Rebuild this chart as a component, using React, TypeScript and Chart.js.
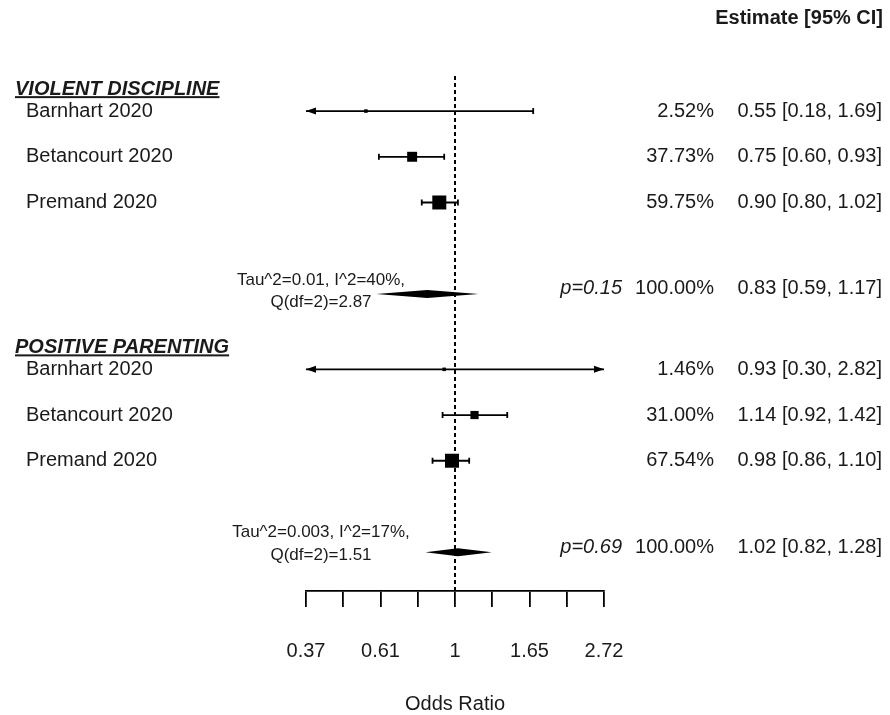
import React, { useEffect, useRef } from 'react';
import { Chart, registerables } from 'chart.js';

Chart.register(...registerables);

// ---------- data ----------
const STUDIES = ['Barnhart 2020', 'Betancourt 2020', 'Premand 2020'];

const GROUP_TITLES = ['VIOLENT DISCIPLINE', 'POSITIVE PARENTING'];

const VD_EST = [0.55, 0.75, 0.9];
const VD_LO = [0.18, 0.6, 0.8];
const VD_HI = [1.69, 0.93, 1.02];
const VD_WEIGHT = [2.52, 37.73, 59.75];
const VD_ROWS = [10.65, 9.65, 8.65];
const VD_SUM_ROW = 6.65;
const VD_SUM = [0.83, 0.59, 1.17]; // estimate, lower, upper
const VD_P = 'p=0.15';
const VD_HET = ['Tau^2=0.01, I^2=40%,', 'Q(df=2)=2.87'];

const PP_EST = [0.93, 1.14, 0.98];
const PP_LO = [0.3, 0.92, 0.86];
const PP_HI = [2.82, 1.42, 1.1];
const PP_WEIGHT = [1.46, 31.0, 67.54];
const PP_ROWS = [5, 4, 3];
const PP_SUM_ROW = 1;
const PP_SUM = [1.02, 0.82, 1.28];
const PP_P = 'p=0.69';
const PP_HET = ['Tau^2=0.003, I^2=17%,', 'Q(df=2)=1.51'];

const SUM_WEIGHT = '100.00%';

// x axis (natural-log odds ratio)
const X_MIN = -1;
const X_MAX = 1;
const TICK_STEP = 0.25;
const TICK_LN = [-1, -0.5, 0, 0.5, 1];
const TICK_LABELS = ['0.37', '0.61', '1', '1.65', '2.72'];
const X_TITLE = 'Odds Ratio';
const HEADER_TEXT = 'Estimate [95% CI]';

// y axis (row units)
const Y_MIN = 0.15;
const Y_MAX = 13.08;
const HEADER_ROW = 12.68;
const REF_LINE_TOP = 11.46;

// ---------- style ----------
const FONT = '"Liberation Sans", Arial, Helvetica, sans-serif';
const TEXT_COLOR = '#1a1a1a';
const MARK_COLOR = '#000';
const HET_OFFSETS = [
  [-14, 8],
  [-20, 3],
];

const fmt = (v: number) => v.toFixed(2);
const ciText = (e: number, l: number, h: number) => `${fmt(e)} [${fmt(l)}, ${fmt(h)}]`;

export default function App() {
  const ref = useRef<HTMLCanvasElement>(null);

  useEffect(() => {
    const canvas = ref.current;
    if (!canvas) return;

    const groups = [
      {
        title: GROUP_TITLES[0],
        rows: VD_ROWS,
        est: VD_EST,
        lo: VD_LO,
        hi: VD_HI,
        w: VD_WEIGHT,
        sumRow: VD_SUM_ROW,
        sum: VD_SUM,
        p: VD_P,
        het: VD_HET,
        hetOff: HET_OFFSETS[0],
      },
      {
        title: GROUP_TITLES[1],
        rows: PP_ROWS,
        est: PP_EST,
        lo: PP_LO,
        hi: PP_HI,
        w: PP_WEIGHT,
        sumRow: PP_SUM_ROW,
        sum: PP_SUM,
        p: PP_P,
        het: PP_HET,
        hetOff: HET_OFFSETS[1],
      },
    ];

    const points: { x: number; y: number }[] = [];
    const radii: number[] = [];
    groups.forEach((g) => {
      const wmin = Math.min(...g.w);
      const wmax = Math.max(...g.w);
      g.est.forEach((e, i) => {
        points.push({ x: Math.log(e), y: g.rows[i] });
        const ps = 0.5 + (1.5 * (g.w[i] - wmin)) / (wmax - wmin);
        const side = ps * 7;
        radii.push(side / Math.SQRT2);
      });
    });

    const forestPlugin = {
      id: 'forest',
      beforeDatasetsDraw(chart: any) {
        const ctx: CanvasRenderingContext2D = chart.ctx;
        const xs = chart.scales.x;
        const ys = chart.scales.y;
        const xl = xs.getPixelForValue(X_MIN);
        const xr = xs.getPixelForValue(X_MAX);
        ctx.save();
        // reference line
        ctx.strokeStyle = MARK_COLOR;
        ctx.lineWidth = 2;
        ctx.setLineDash([4, 3]);
        ctx.beginPath();
        const x0 = xs.getPixelForValue(0);
        ctx.moveTo(x0, ys.getPixelForValue(Y_MIN));
        ctx.lineTo(x0, ys.getPixelForValue(REF_LINE_TOP));
        ctx.stroke();
        ctx.setLineDash([]);

        groups.forEach((g) => {
          g.est.forEach((_, i) => {
            const y = ys.getPixelForValue(g.rows[i]);
            const lnLo = Math.log(g.lo[i]);
            const lnHi = Math.log(g.hi[i]);
            const a = xs.getPixelForValue(Math.max(lnLo, X_MIN));
            const b = xs.getPixelForValue(Math.min(lnHi, X_MAX));
            ctx.strokeStyle = MARK_COLOR;
            ctx.fillStyle = MARK_COLOR;
            ctx.lineWidth = 1.8;
            ctx.beginPath();
            ctx.moveTo(a, y);
            ctx.lineTo(b, y);
            ctx.stroke();
            // left end
            if (lnLo < X_MIN) {
              ctx.beginPath();
              ctx.moveTo(xl, y);
              ctx.lineTo(xl + 10, y - 3.5);
              ctx.lineTo(xl + 10, y + 3.5);
              ctx.closePath();
              ctx.fill();
            } else {
              ctx.beginPath();
              ctx.moveTo(a, y - 3);
              ctx.lineTo(a, y + 3);
              ctx.stroke();
            }
            // right end
            if (lnHi > X_MAX) {
              ctx.beginPath();
              ctx.moveTo(xr, y);
              ctx.lineTo(xr - 10, y - 3.5);
              ctx.lineTo(xr - 10, y + 3.5);
              ctx.closePath();
              ctx.fill();
            } else {
              ctx.beginPath();
              ctx.moveTo(b, y - 3);
              ctx.lineTo(b, y + 3);
              ctx.stroke();
            }
          });
          // summary diamond
          const yS = ys.getPixelForValue(g.sumRow);
          const pe = xs.getPixelForValue(Math.log(g.sum[0]));
          const pl = xs.getPixelForValue(Math.log(g.sum[1]));
          const ph = xs.getPixelForValue(Math.log(g.sum[2]));
          ctx.fillStyle = MARK_COLOR;
          ctx.beginPath();
          ctx.moveTo(pl, yS);
          ctx.lineTo(pe, yS - 4);
          ctx.lineTo(ph, yS);
          ctx.lineTo(pe, yS + 4);
          ctx.closePath();
          ctx.fill();
        });
        ctx.restore();
      },
      afterDraw(chart: any) {
        const ctx: CanvasRenderingContext2D = chart.ctx;
        const ys = chart.scales.y;
        ctx.save();
        ctx.fillStyle = TEXT_COLOR;
        ctx.textBaseline = 'middle';

        // column header
        ctx.font = `bold 20px ${FONT}`;
        ctx.textAlign = 'right';
        ctx.fillText(HEADER_TEXT, 883, ys.getPixelForValue(HEADER_ROW));

        groups.forEach((g) => {
          // group title
          const hy = ys.getPixelForValue(g.rows[0] + 0.48);
          ctx.font = `italic bold 20px ${FONT}`;
          ctx.textAlign = 'left';
          ctx.fillText(g.title, 15, hy);
          const tw = ctx.measureText(g.title).width;
          ctx.fillRect(15, hy + 7, tw, 2);

          ctx.font = `20px ${FONT}`;
          g.est.forEach((e, i) => {
            const y = ys.getPixelForValue(g.rows[i]);
            ctx.textAlign = 'left';
            ctx.fillText(STUDIES[i], 26, y);
            ctx.textAlign = 'right';
            ctx.fillText(`${fmt(g.w[i])}%`, 714, y);
            ctx.fillText(ciText(e, g.lo[i], g.hi[i]), 882, y);
          });

          const yS = ys.getPixelForValue(g.sumRow);
          ctx.textAlign = 'right';
          ctx.fillText(SUM_WEIGHT, 714, yS - 5);
          ctx.fillText(ciText(g.sum[0], g.sum[1], g.sum[2]), 882, yS - 5);
          ctx.font = `italic 20px ${FONT}`;
          ctx.fillText(g.p, 622, yS - 5);

          ctx.font = `17px ${FONT}`;
          ctx.textAlign = 'center';
          ctx.fillText(g.het[0], 321, yS + g.hetOff[0]);
          ctx.fillText(g.het[1], 321, yS + g.hetOff[1]);
        });
        ctx.restore();
      },
    };

    const chart = new Chart(canvas, {
      type: 'scatter',
      data: {
        datasets: [
          {
            data: points,
            pointStyle: 'rect',
            pointRadius: radii,
            pointHoverRadius: radii,
            backgroundColor: MARK_COLOR,
            borderColor: MARK_COLOR,
            borderWidth: 0,
            clip: false,
          },
        ],
      },
      options: {
        responsive: false,
        animation: false,
        events: [],
        layout: { autoPadding: false, padding: { left: 306, right: 286, top: 0, bottom: 0 } },
        plugins: {
          legend: { display: false },
          tooltip: { enabled: false },
        },
        scales: {
          x: {
            type: 'linear',
            min: X_MIN,
            max: X_MAX,
            ticks: {
              stepSize: TICK_STEP,
              autoSkip: false,
              maxRotation: 0,
              padding: 32,
              color: TEXT_COLOR,
              font: { family: FONT, size: 20 },
              callback: (v: any) => {
                const idx = TICK_LN.findIndex((t) => Math.abs(t - Number(v)) < 1e-6);
                return idx >= 0 ? TICK_LABELS[idx] : '';
              },
            },
            grid: {
              display: true,
              drawOnChartArea: false,
              drawTicks: true,
              tickLength: 16,
              color: MARK_COLOR,
              lineWidth: 1.8,
            },
            border: { display: true, color: MARK_COLOR, width: 1.8 },
            title: {
              display: true,
              text: X_TITLE,
              color: TEXT_COLOR,
              font: { family: FONT, size: 20 },
              padding: { top: -3, bottom: -1 },
            },
          },
          y: {
            type: 'linear',
            display: false,
            min: Y_MIN,
            max: Y_MAX,
          },
        },
      },
      plugins: [forestPlugin],
    } as any);

    return () => chart.destroy();
  }, []);

  return (
    <div style={{ position: 'fixed', left: 0, top: 0, width: 890, height: 715, background: '#fff' }}>
      <canvas ref={ref} width={890} height={715} style={{ display: 'block' }} />
    </div>
  );
}
